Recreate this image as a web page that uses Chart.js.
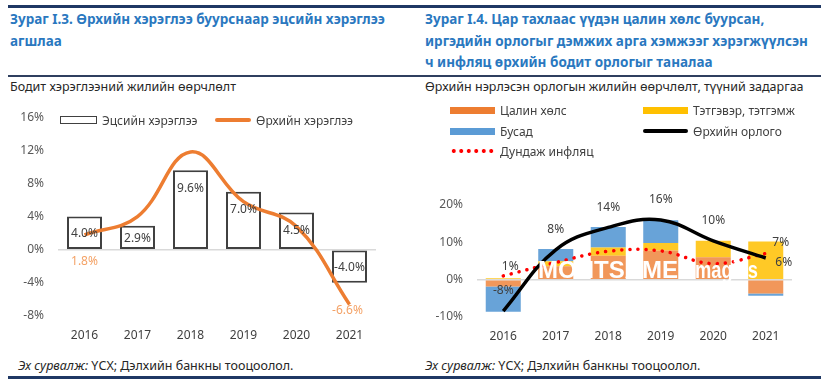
<!DOCTYPE html>
<html>
<head>
<meta charset="utf-8">
<script src="https://cdn.jsdelivr.net/npm/chart.js@4.4.1/dist/chart.umd.min.js"></script>
<style>
body{margin:0;width:825px;height:384px;background:#fff;position:relative;overflow:hidden;font-family:"Noto Sans",sans-serif;}
.rule{position:absolute;background:#1f3864;}
.title{position:absolute;color:#2a78bf;font-weight:bold;font-size:13.5px;line-height:21.5px;white-space:nowrap;}
.sub{position:absolute;font-size:12.5px;color:#262626;white-space:nowrap;}
.src{position:absolute;font-size:12.5px;color:#262626;top:357px;white-space:nowrap;}
.lg{position:absolute;font-size:12px;color:#404040;display:flex;align-items:center;white-space:nowrap;height:14px;}
.sym{display:inline-block;margin-right:5px;box-sizing:border-box;}
canvas{position:absolute;}
</style>
</head>
<body>
<div class="rule" style="left:8px;top:5px;width:813px;height:3px;"></div>
<div class="title" style="left:10px;top:9px;">Зураг I.3. Өрхийн хэрэглээ буурснаар эцсийн хэрэглээ<br>агшлаа</div>
<div class="title" style="left:425px;top:9px;">Зураг I.4. Цар тахлаас үүдэн цалин хөлс буурсан,<br>иргэдийн орлогыг дэмжих арга хэмжээг хэрэгжүүлсэн<br>ч инфляц өрхийн бодит орлогыг таналаа</div>
<div class="rule" style="left:8px;top:75px;width:813px;height:1.5px;background:#2f3f5f;"></div>
<div class="sub" style="left:10px;top:78px;">Бодит хэрэглээний жилийн өөрчлөлт</div>
<div class="sub" style="left:425px;top:78px;">Өрхийн нэрлэсэн орлогын жилийн өөрчлөлт, түүний задаргаа</div>

<canvas id="consChart" width="410" height="254" style="left:0;top:96px;width:410px;height:254px;"></canvas>
<canvas id="incChart" width="415" height="170" style="left:410px;top:180px;width:415px;height:170px;"></canvas>

<div id="legendLeft"></div>
<div id="legendRight"></div>

<div class="src" style="left:18px;"><i>Эх сурвалж:</i> ҮСХ; Дэлхийн банкны тооцоолол.</div>
<div class="src" style="left:425px;"><i>Эх сурвалж:</i> ҮСХ; Дэлхийн банкны тооцоолол.</div>
<div class="rule" style="left:8px;top:376px;width:813px;height:3px;"></div>

<script>
// Өгөгдөл
const years = ['2016', '2017', '2018', '2019', '2020', '2021'];

// Зураг I.3
const finalConsumption = [4.0, 2.9, 9.6, 7.0, 4.5, -4.0];
const householdConsumption = [1.8, 4.0, 11.8, 5.8, 2.8, -6.6];
const consTicks = [-8, -4, 0, 4, 8, 12, 16];

// Зураг I.4
const wages = [-1.8, 3.6, 6.4, 7.8, 6.0, -3.7];
const pensions = [0.4, 1.3, 2.2, 2.0, 4.4, 10.2];
const other = [-6.8, 3.3, 5.5, 6.1, 0, -0.6];
const householdIncome = [-8.4, 8.0, 14.0, 16.0, 10.4, 5.8];
const avgInflation = [1.0, 4.6, 7.6, 7.7, 4.3, 7.0];
const incTicks = [-10, 0, 10, 20];

Chart.defaults.font.family = '"Noto Sans", sans-serif';
Chart.defaults.font.size = 12;
Chart.defaults.color = '#595959';
Chart.defaults.animation = false;

const zeroGrid = ctx => ctx.tick && ctx.tick.value === 0 ? '#d9d9d9' : 'rgba(0,0,0,0)';

// Легенд HTML-ээр
function legendItem(parent, left, top, symStyle, text) {
    const d = document.createElement('div');
    d.className = 'lg';
    d.style.left = left + 'px';
    d.style.top = top + 'px';
    const s = document.createElement('span');
    s.className = 'sym';
    s.style.cssText += symStyle;
    d.appendChild(s);
    d.appendChild(document.createTextNode(text));
    parent.appendChild(d);
}

const lgL = document.getElementById('legendLeft');
legendItem(lgL, 60, 113, 'width:37px;height:8px;border:1.5px solid #404040;background:#fff;', 'Эцсийн хэрэглээ');
legendItem(lgL, 215, 113, 'width:36px;height:3.5px;background:#ed7d31;border-radius:2px;', 'Өрхийн хэрэглээ');

const lgR = document.getElementById('legendRight');
legendItem(lgR, 450, 103, 'width:45px;height:7px;background:#ed7d31;', 'Цалин хөлс');
legendItem(lgR, 643, 103, 'width:45px;height:7px;background:#ffc000;', 'Тэтгэвэр, тэтгэмж');
legendItem(lgR, 450, 124, 'width:45px;height:7px;background:#5b9bd5;', 'Бусад');
legendItem(lgR, 643, 124, 'width:45px;height:3.5px;background:#000;border-radius:2px;', 'Өрхийн орлого');
legendItem(lgR, 450, 144, 'width:45px;height:4px;background:radial-gradient(circle,#ff0000 1.8px,transparent 2.2px) 0 0/7.5px 4px repeat-x;', 'Дундаж инфляц');

// Тэмдэглэгээ зурах
const labelPlugin = {
    id: 'labelPlugin',
    afterDatasetsDraw(chart, args, opts) {
        const ctx = chart.ctx;
        ctx.save();
        if (opts.watermark) opts.watermark(ctx);
        ctx.font = '12px "Noto Sans", sans-serif';
        ctx.textAlign = 'center';
        ctx.textBaseline = 'middle';
        opts.items.forEach(item => {
            const meta = chart.getDatasetMeta(item.ds);
            const values = chart.data.datasets[item.ds].data;
            meta.data.forEach((el, i) => {
                const pos = item.place(el, i, values[i]);
                if (!pos) return;
                ctx.fillStyle = item.color;
                ctx.fillText(item.format(values[i]), pos.x, pos.y);
            });
        });
        ctx.restore();
    }
};

new Chart(document.getElementById('consChart'), {
    type: 'bar',
    data: {
        labels: years,
        datasets: [{
            type: 'line',
            label: 'Өрхийн хэрэглээ',
            data: householdConsumption,
            borderColor: '#ed7d31',
            borderWidth: 3.5,
            pointRadius: 0,
            tension: 0.4,
            order: 0
        }, {
            label: 'Эцсийн хэрэглээ',
            data: finalConsumption,
            backgroundColor: '#ffffff',
            borderColor: '#404040',
            borderWidth: 2,
            borderSkipped: false,
            categoryPercentage: 1,
            barPercentage: 0.66,
            order: 1
        }]
    },
    options: {
        responsive: false,
        layout: { padding: { top: 13, right: 34, left: 0, bottom: 0 } },
        plugins: {
            legend: { display: false },
            tooltip: { enabled: false },
            labelPlugin: {
                items: [{
                    ds: 1,
                    color: '#404040',
                    format: v => v.toFixed(1) + '%',
                    place: (el, i, v) => {
                        const h = Math.abs(el.base - el.y);
                        if (h < 36 || v < 0) return { x: el.x, y: (el.y + el.base) / 2 + 1 };
                        return { x: el.x, y: el.y + 18 };
                    }
                }, {
                    ds: 0,
                    color: '#f4a266',
                    format: v => v.toFixed(1) + '%',
                    place: (el, i) => i === 0 ? { x: el.x, y: el.y + 27 }
                        : i === 5 ? { x: el.x - 2, y: el.y + 6 } : null
                }]
            }
        },
        scales: {
            x: {
                grid: { display: false, drawTicks: false },
                border: { display: false },
                ticks: { color: '#404040', padding: 12 },
                afterFit: s => { s.height = 34; }
            },
            y: {
                min: consTicks[0],
                max: consTicks[consTicks.length - 1],
                afterBuildTicks: s => { s.ticks = consTicks.map(v => ({ value: v })); },
                grid: { color: zeroGrid, lineWidth: 1.5, drawTicks: false },
                border: { display: false },
                ticks: { padding: 14, callback: v => v + '%' },
                afterFit: s => { s.width = 58; }
            }
        }
    },
    plugins: [labelPlugin]
});

new Chart(document.getElementById('incChart'), {
    type: 'bar',
    data: {
        labels: years,
        datasets: [{
            label: 'Цалин хөлс',
            data: wages,
            backgroundColor: 'rgba(237,125,49,0.8)',
            stack: 'bars',
            order: 2
        }, {
            label: 'Тэтгэвэр, тэтгэмж',
            data: pensions,
            backgroundColor: 'rgba(255,192,0,0.85)',
            stack: 'bars',
            order: 2
        }, {
            label: 'Бусад',
            data: other,
            backgroundColor: 'rgba(91,155,213,0.92)',
            stack: 'bars',
            order: 2
        }, {
            type: 'line',
            label: 'Өрхийн орлого',
            data: householdIncome,
            borderColor: '#000000',
            borderWidth: 3.5,
            pointRadius: 0,
            tension: 0.4,
            stack: 'income',
            order: 0
        }, {
            type: 'line',
            label: 'Дундаж инфляц',
            data: avgInflation,
            borderColor: '#ff0000',
            borderWidth: 3.5,
            borderCapStyle: 'round',
            borderDash: [0.1, 8],
            pointRadius: 0,
            tension: 0.4,
            stack: 'inflation',
            order: 1
        }]
    },
    options: {
        responsive: false,
        layout: { padding: { top: 25, right: 33, left: 0, bottom: 0 } },
        datasets: { bar: { categoryPercentage: 1, barPercentage: 0.667 } },
        plugins: {
            legend: { display: false },
            tooltip: { enabled: false },
            labelPlugin: {
                watermark: ctx => {
                    ctx.fillStyle = '#ffffff';
                    ctx.font = 'bold 24px "Liberation Sans", sans-serif';
                    ctx.textBaseline = 'alphabetic';
                    ctx.textAlign = 'left';
                    ctx.fillText('MONTSAME', 128, 98);
                    ctx.fillText('magics', 285, 98, 63);
                },
                items: [{
                    ds: 3,
                    color: '#404040',
                    format: v => Math.round(v) + '%',
                    place: (el, i) => i < 5 ? { x: el.x, y: el.y - 20 } : { x: el.x + 18, y: el.y + 5 }
                }, {
                    ds: 4,
                    color: '#404040',
                    format: v => Math.round(v) + '%',
                    place: (el, i) => i === 0 ? { x: el.x + 7, y: el.y - 9 }
                        : i === 5 ? { x: el.x + 15, y: el.y - 11 } : null
                }]
            }
        },
        scales: {
            x: {
                stacked: true,
                grid: { display: false, drawTicks: false },
                border: { display: false },
                ticks: { color: '#404040', padding: 12 },
                afterFit: s => { s.height = 33; }
            },
            y: {
                stacked: true,
                min: incTicks[0],
                max: incTicks[incTicks.length - 1],
                afterBuildTicks: s => { s.ticks = incTicks.map(v => ({ value: v })); },
                grid: { color: zeroGrid, lineWidth: 1.5, drawTicks: false },
                border: { display: false },
                ticks: { padding: 14, callback: v => v + '%' },
                afterFit: s => { s.width = 67; }
            }
        }
    },
    plugins: [labelPlugin]
});
</script>
</body>
</html>
